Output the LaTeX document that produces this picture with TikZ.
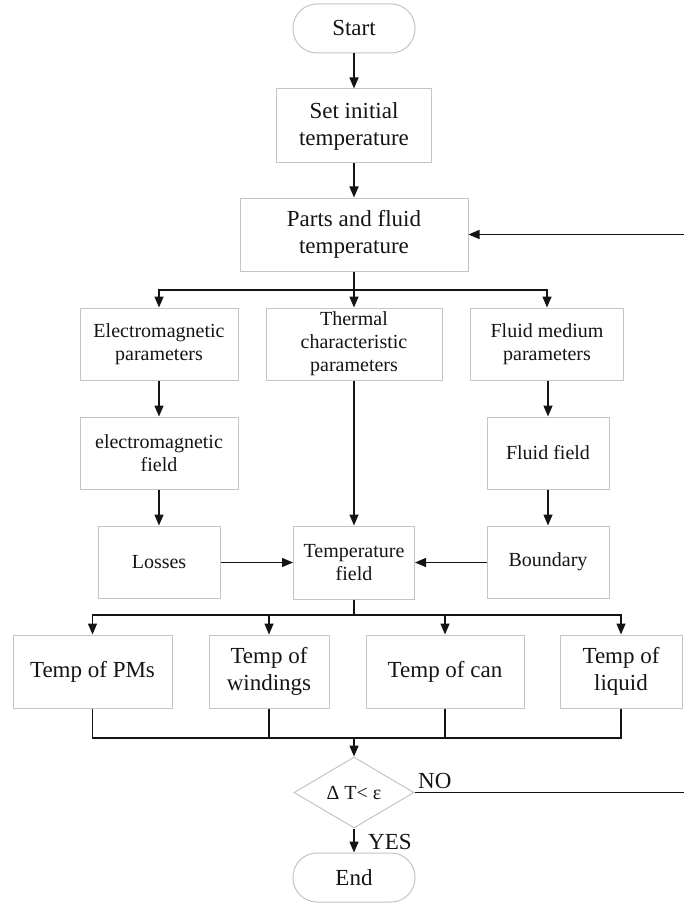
\documentclass[tikz,border=0pt]{standalone}
\usepackage{fontspec}
\setmainfont{Liberation Serif}
\usetikzlibrary{arrows.meta,shapes.geometric}
\definecolor{boxline}{RGB}{196,196,196}
\definecolor{ink}{RGB}{20,20,20}
\tikzset{
  base/.style={draw=boxline, line width=1pt, text=ink, align=center, inner sep=2pt},
  bigbox/.style={base, font=\fontsize{23}{27}\selectfont},
  smallbox/.style={base, font=\fontsize{20}{23}\selectfont},
  term/.style={bigbox, rounded corners=24pt, minimum width=122pt, minimum height=49pt},
  decision/.style={base, diamond, aspect=1.7, inner sep=0pt, minimum width=120pt, minimum height=71pt, font=\fontsize{20}{23}\selectfont},
  conn/.style={draw=ink, line width=1.5pt, -{Triangle[length=11pt,width=9pt]}},
  plain/.style={draw=ink, line width=1.5pt},
  lbl/.style={text=ink, font=\fontsize{23}{27}\selectfont, inner sep=0pt}
}
\begin{document}
\begin{tikzpicture}[x=1pt,y=-1pt]
\useasboundingbox (0,0) rectangle (684,904);

\node[term] (start) at (354,28.5) {Start};
\node[bigbox, minimum width=155pt, minimum height=74pt] (init) at (354,126) {Set initial\\temperature};
\node[bigbox, minimum width=228pt, minimum height=73pt] (parts) at (354,234.5) {Parts and fluid\\temperature};

\node[smallbox, minimum width=158pt, minimum height=72pt] (em) at (159,344) {Electromagnetic\\parameters};
\node[smallbox, minimum width=176pt, minimum height=72pt] (th) at (354,344) {Thermal\\characteristic\\parameters};
\node[smallbox, minimum width=153pt, minimum height=72pt] (fm) at (547,344) {Fluid medium\\parameters};

\node[smallbox, minimum width=158pt, minimum height=72pt] (emf) at (159,453) {electromagnetic\\field};
\node[smallbox, minimum width=122pt, minimum height=72pt] (ff) at (548,453) {Fluid field};

\node[smallbox, minimum width=122pt, minimum height=72pt] (loss) at (159,562) {Losses};
\node[smallbox, minimum width=121pt, minimum height=73pt] (tf) at (354,562.5) {Temperature\\field};
\node[smallbox, minimum width=122pt, minimum height=72pt] (bd) at (548,562) {Boundary};

\node[bigbox, minimum width=159pt, minimum height=73pt] (pm) at (92.5,671.5) {Temp of PMs};
\node[bigbox, minimum width=120pt, minimum height=73pt] (wd) at (269,671.5) {Temp of\\windings};
\node[bigbox, minimum width=158pt, minimum height=73pt] (can) at (445,671.5) {Temp of can};
\node[bigbox, minimum width=122pt, minimum height=73pt] (liq) at (621,671.5) {Temp of\\liquid};

\node[decision] (dec) at (354,792.5) {Δ T< ε};
\node[term] (end) at (354,877.5) {End};

\coordinate (b1) at (354,290);
\coordinate (b2) at (354,615);
\coordinate (c1) at (354,738);
\coordinate (rt) at (687,792.5);

\draw[conn] (start) -- (init);
\draw[conn] (init) -- (parts);
\draw[conn] (parts) -- (th);
\draw[conn] (b1) -| (em.north);
\draw[conn] (b1) -| (fm.north);

\draw[conn] (em) -- (emf);
\draw[conn] (emf) -- (loss);
\draw[conn] (fm.south -| ff.north) -- (ff);
\draw[conn] (ff) -- (bd);
\draw[conn] (th) -- (tf);
\draw[conn] (loss.east |- tf.west) -- (tf.west);
\draw[conn] (bd.west |- tf.east) -- (tf.east);

\draw[plain] (tf) -- (b2);
\draw[conn] (b2) -| (pm.north);
\draw[conn] (b2) -| (wd.north);
\draw[conn] (b2) -| (can.north);
\draw[conn] (b2) -| (liq.north);

\draw[plain] (pm.south) |- (c1);
\draw[plain] (liq.south) |- (c1);
\draw[plain] (wd.south) -- (wd.south |- c1);
\draw[plain] (can.south) -- (can.south |- c1);
\draw[conn] (c1) -- (dec.north);

\draw[conn] (dec) -- (end);
\draw[conn] (dec.east) -- (rt) |- (parts.east);

\node[lbl, anchor=west] (no) at (418,781) {NO};
\node[lbl, anchor=west] (yes) at (368,842) {YES};
\end{tikzpicture}
\end{document}
